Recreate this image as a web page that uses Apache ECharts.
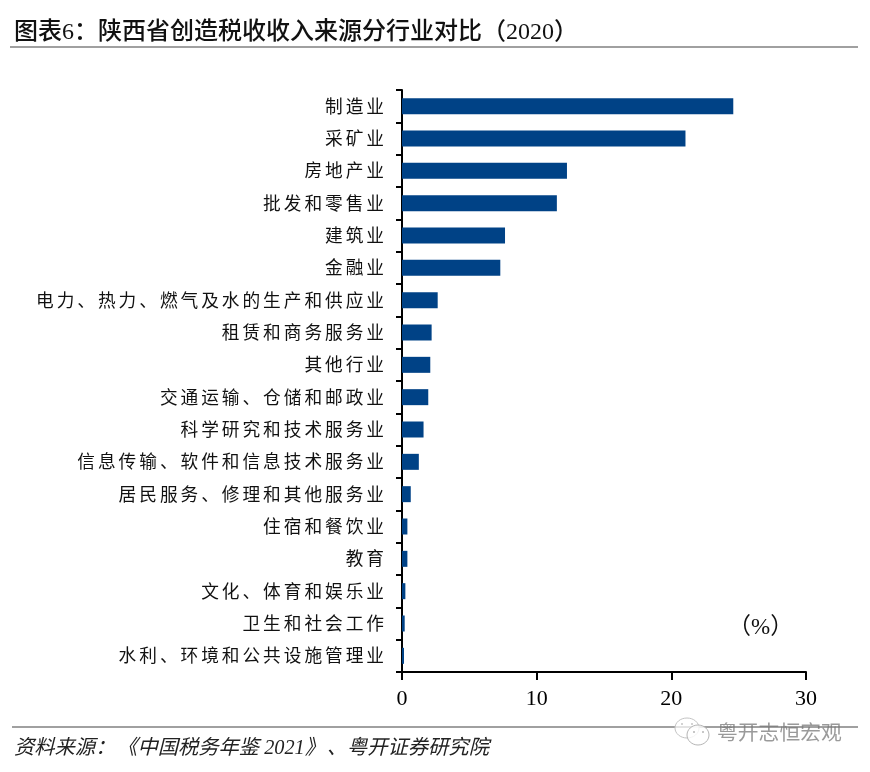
<!DOCTYPE html>
<html>
<head>
<meta charset="utf-8">
<style>
  html, body { margin: 0; padding: 0; background: #fff; }
  #main { width: 870px; height: 772px; }
</style>
<script src="https://cdn.jsdelivr.net/npm/echarts@6/dist/echarts.min.js"></script>
</head>
<body>
<div id="main"></div>
<script>
var categories = ['制造业', '采矿业', '房地产业', '批发和零售业', '建筑业', '金融业',
  '电力、热力、燃气及水的生产和供应业', '租赁和商务服务业', '其他行业', '交通运输、仓储和邮政业',
  '科学研究和技术服务业', '信息传输、软件和信息技术服务业', '居民服务、修理和其他服务业',
  '住宿和餐饮业', '教育', '文化、体育和娱乐业', '卫生和社会工作', '水利、环境和公共设施管理业'];
var shares = [24.6, 21.05, 12.25, 11.5, 7.65, 7.3, 2.65, 2.2, 2.1, 1.95, 1.6, 1.25, 0.65, 0.4, 0.4, 0.25, 0.2, 0.15];
var xTicks = [0, 10, 20, 30];

var titleText = '图表6：陕西省创造税收收入来源分行业对比（2020）';
// hair spaces stop the browser collapsing the adjacent full-width punctuation
var sourceText = '资料来源：\u200a《中国税务年鉴 2021》\u200a、粤开证券研究院';
var watermark = '粤开志恒宏观';

var cjk = '"Liberation Serif", "Noto Sans CJK SC"';

var myChart = echarts.init(document.getElementById('main'));

var option = {
  backgroundColor: '#fff',
  animation: false,
  title: [
    { text: titleText, left: 14, top: 21, padding: 0, textStyle: { fontFamily: cjk, fontSize: 24, fontWeight: 500, color: '#111' } },
    { text: sourceText, left: 14, top: 739, padding: 0, textStyle: { fontFamily: cjk, fontSize: 20.3, fontStyle: 'italic', fontWeight: 'normal', color: '#222' } }
  ],
  grid: { left: 402, right: 64, top: 90, bottom: 100 },
  xAxis: {
    type: 'value',
    min: 0,
    max: 30,
    interval: 10,
    splitLine: { show: false },
    axisLine: { show: true, lineStyle: { color: '#000', width: 2 } },
    axisTick: { show: true, length: 8, lineStyle: { color: '#000', width: 2 } },
    axisLabel: {
      margin: 16,
      fontFamily: '"Liberation Serif"',
      fontSize: 22,
      color: '#000',
      formatter: function (v) { return xTicks.indexOf(v) >= 0 ? String(v) : ''; }
    }
  },
  yAxis: {
    type: 'category',
    inverse: true,
    data: categories,
    axisLine: { show: true, lineStyle: { color: '#000', width: 2 } },
    axisTick: { show: true, length: 6, lineStyle: { color: '#000', width: 2 } },
    axisLabel: {
      margin: 18,
      interval: 0,
      // the reference sets these labels with wide tracking, and a little low
      formatter: function (v) { return '{c|' + v.split('').join('\u200a\u200a') + '}'; },
      rich: {
        c: { fontFamily: cjk, fontSize: 17.7, color: '#111', padding: [4, 0, 0, 0] }
      }
    }
  },
  series: [{
    type: 'bar',
    data: shares,
    barWidth: 16,
    itemStyle: { color: '#004286' }
  }],
  graphic: [
    { type: 'line', shape: { x1: 10, y1: 47, x2: 858, y2: 47 }, style: { stroke: '#a0a0a0', lineWidth: 2 } },
    { type: 'line', shape: { x1: 12, y1: 727, x2: 858, y2: 727 }, style: { stroke: '#a0a0a0', lineWidth: 2 } },
    { type: 'text', left: 728, top: 616, style: { text: '（%）', font: '23px ' + cjk, fill: '#111' } },
    { type: 'ellipse', shape: { cx: 687, cy: 728, rx: 12, ry: 10 }, style: { fill: 'rgba(255,255,255,0.7)', stroke: '#c4c4c4', lineWidth: 1 } },
    { type: 'ellipse', shape: { cx: 698, cy: 735, rx: 11, ry: 10 }, style: { fill: 'rgba(255,255,255,0.8)', stroke: '#b5b5b5', lineWidth: 1 } },
    { type: 'circle', shape: { cx: 682, cy: 724, r: 1 }, style: { fill: '#c4c4c4' } },
    { type: 'circle', shape: { cx: 692, cy: 724, r: 1 }, style: { fill: '#c4c4c4' } },
    { type: 'circle', shape: { cx: 694, cy: 732, r: 1 }, style: { fill: '#b5b5b5' } },
    { type: 'circle', shape: { cx: 703, cy: 732, r: 1 }, style: { fill: '#b5b5b5' } },
    { type: 'text', left: 717, top: 722, style: { text: watermark, font: '20.8px "Noto Sans CJK SC"', fill: 'rgba(120,120,120,0.75)' } }
  ]
};

myChart.setOption(option);
</script>
</body>
</html>
